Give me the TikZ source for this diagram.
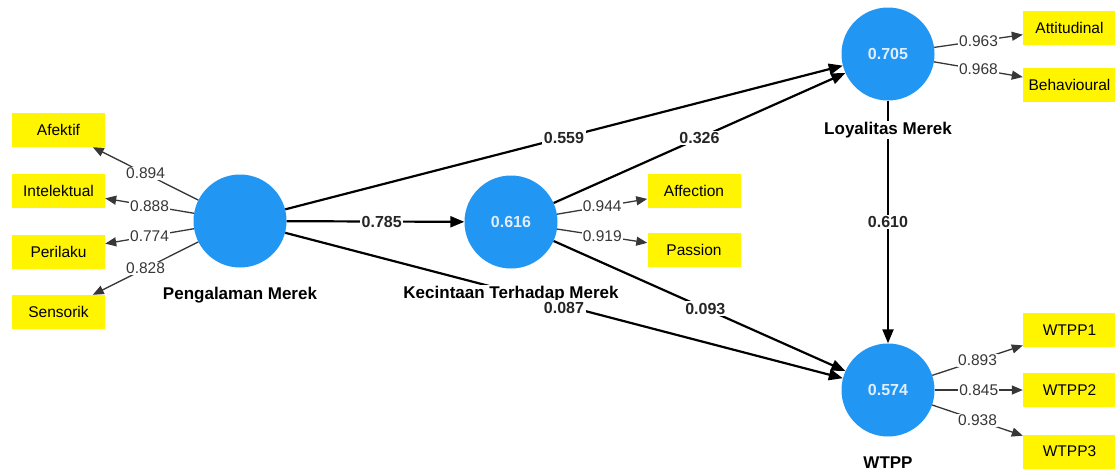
\documentclass[tikz,border=0pt]{standalone}
\usepackage{fontspec}
\setmainfont{Liberation Sans}
\usetikzlibrary{arrows.meta}
\definecolor{lvblue}{RGB}{33,150,243}
\definecolor{indyel}{RGB}{255,245,0}
\definecolor{loadgray}{RGB}{55,55,55}
\definecolor{numwhite}{RGB}{225,238,255}
\tikzset{
  lv/.style={circle, fill=lvblue, minimum size=93pt, inner sep=0pt, text=numwhite, font=\fontsize{16}{18}\selectfont\bfseries},
  ind/.style={rectangle, fill=indyel, minimum width=93pt, minimum height=34pt, inner sep=0pt, font=\fontsize{15.5}{17}\selectfont},
  lvname/.style={font=\fontsize{17}{19}\selectfont\bfseries, inner sep=1pt, fill=white},
  struct/.style={line width=2.2pt, black, -{Triangle[length=14pt,width=11pt]}},
  loadln/.style={line width=1.3pt, loadgray, -{Triangle[length=11pt,width=9pt]}},
  slab/.style={fill=white, inner sep=1.5pt, font=\fontsize{16}{18}\selectfont\bfseries, text=black!85},
  llab/.style={fill=white, inner sep=1pt, font=\fontsize{15.5}{17}\selectfont, text=loadgray}
}
\begin{document}
\begin{tikzpicture}[x=1pt,y=-1pt]
\useasboundingbox (0,0) rectangle (1115,474);
% latent variables
\node[lv] (pm) at (240,221) {};
\node[lv] (kt) at (511,222) {0.616};
\node[lv] (lm) at (888,54) {0.705};
\node[lv] (wt) at (888,390) {0.574};
% indicators
\node[ind] (afe) at (58.5,130) {Afektif};
\node[ind] (int) at (58.5,190.5) {Intelektual};
\node[ind] (per) at (58.5,251.5) {Perilaku};
\node[ind] (sen) at (58.5,312) {Sensorik};
\node[ind] (aff) at (694,191) {Affection};
\node[ind] (pas) at (694,250) {Passion};
\node[ind] (att) at (1069.5,28) {Attitudinal};
\node[ind] (beh) at (1069.5,85) {Behavioural};
\node[ind] (w1) at (1069.5,330) {WTPP1};
\node[ind] (w2) at (1069.5,390) {WTPP2};
\node[ind] (w3) at (1069.5,451.5) {WTPP3};
% structural paths
\draw[struct] (pm) -- node[slab, pos=0.535] {0.785} (kt);
\draw[struct] (pm) -- node[slab, pos=0.5] {0.559} (lm);
\draw[struct] (pm) -- (wt);
\draw[struct] (kt) -- node[slab, pos=0.5] {0.326} (lm);
\draw[struct] (kt) -- node[slab, pos=0.52] {0.093} (wt);
\draw[struct] (lm) -- node[slab, pos=0.5] {0.610} (wt);
% outer loadings
\draw[loadln] (pm) -- node[llab] {0.894} (afe);
\draw[loadln] (pm) -- node[llab] {0.888} (int);
\draw[loadln] (pm) -- node[llab] {0.774} (per);
\draw[loadln] (pm) -- node[llab] {0.828} (sen);
\draw[loadln] (kt) -- node[llab] {0.944} (aff);
\draw[loadln] (kt) -- node[llab] {0.919} (pas);
\draw[loadln] (lm) -- node[llab] {0.963} (att);
\draw[loadln] (lm) -- node[llab] {0.968} (beh);
\draw[loadln] (wt) -- node[llab] {0.893} (w1);
\draw[loadln] (wt) -- node[llab] {0.845} (w2);
\draw[loadln] (wt) -- node[llab] {0.938} (w3);
% names
\node[lvname] (pmname) at (240,295) {Pengalaman Merek};
\node[lvname] (ktname) at (511,294) {Kecintaan Terhadap Merek};
\node[lvname] (lmname) at (888,130) {Loyalitas Merek};
\node[lvname] (wtname) at (888,463) {WTPP};
\path (pm) -- node[slab, pos=0.5, yshift=-2pt] {0.087} (wt);
\end{tikzpicture}
\end{document}
